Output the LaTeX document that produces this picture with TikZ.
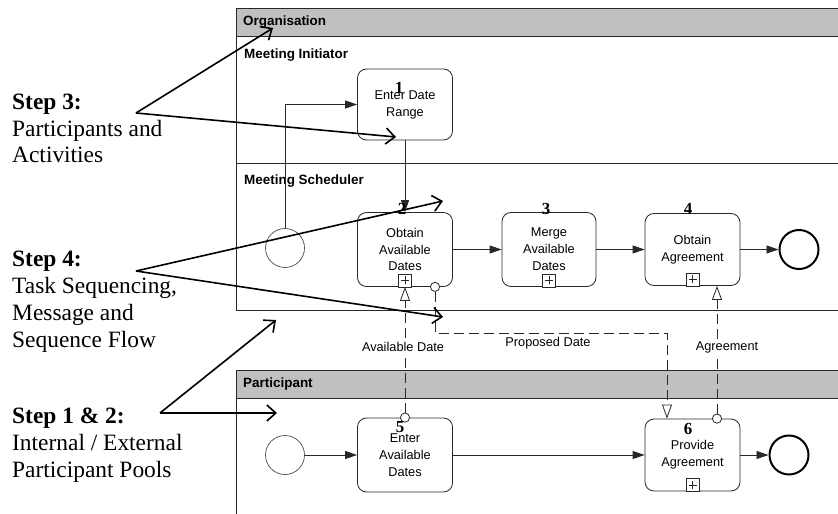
\documentclass[tikz,border=0pt]{standalone}
\usepackage{fontspec}
\setmainfont{Liberation Serif}
\newfontfamily\arialf{Liberation Sans}
\usetikzlibrary{arrows.meta}
\definecolor{hdr}{RGB}{192,192,192}
\definecolor{ln}{RGB}{40,40,40}
\begin{document}
\begin{tikzpicture}[x=1bp,y=-1bp,
  task/.style={draw=ln, line width=0.8bp, rounded corners=9bp, minimum width=95bp, minimum height=74bp, inner sep=0pt, align=center, font=\arialf\fontsize{12.8}{17}\selectfont},
  num/.style={font=\fontsize{17}{17}\selectfont\bfseries, inner sep=0pt},
  lanelbl/.style={anchor=west, font=\arialf\bfseries\fontsize{13.5}{15}\selectfont, inner sep=0pt},
  msglbl/.style={font=\arialf\fontsize{12.8}{15}\selectfont, fill=white, inner sep=1bp},
  seq/.style={draw=ln, line width=0.8bp, -{Triangle[length=12bp,width=8bp]}},
  msg/.style={draw=ln, line width=0.8bp, dash pattern=on 10bp off 5bp, {Circle[length=10bp,width=10bp,fill=white,line width=0.8bp]}-{Triangle[open,length=14bp,width=10bp,fill=white,line width=0.8bp]}, shorten <=-5bp},
  startev/.style={circle, draw=gray!60!black, line width=0.7bp, minimum size=39bp, inner sep=0pt},
  endev/.style={circle, draw=black, line width=2bp, minimum size=39bp, inner sep=0pt},
  note/.style={anchor=base west, align=left, inner sep=0pt, font=\fontsize{23.5}{27}\selectfont},
  pointer/.style={line width=1.6bp, -{Straight Barb[length=9bp,width=16bp]}},
  pool/.style={draw=ln, line width=0.8bp}
]
\useasboundingbox (0,0) rectangle (838,514);
\clip (0,0) rectangle (838,514);
% pools
\draw[pool, fill=white] (236,8) rectangle (850,310);
\filldraw[pool, fill=hdr] (236,8) rectangle (850,36);
\draw[pool] (236,163) -- (850,163);
\filldraw[pool, fill=hdr] (236,370) rectangle (850,398);
\draw[pool] (236,398) -- (236,520);
\node[lanelbl] (lo) at (243,22) {Organisation};
\node[lanelbl] (lmi) at (244,55) {Meeting Initiator};
\node[lanelbl] (lms) at (244,181) {Meeting Scheduler};
\node[lanelbl] (lp) at (243,384) {Participant};
% tasks
\node[task, minimum height=71bp] (t1) at (405,104.5) {Enter Date\\Range};
\node[task] (t2) at (405,249.5) {Obtain\\Available\\Dates};
\node[task, minimum width=94bp] (t3) at (549,249.5) {Merge\\Available\\Dates};
\node[task, minimum height=72bp] (t4) at (692.5,249.5) {Obtain\\Agreement};
\node[task] (t5) at (405,455) {Enter\\Available\\Dates};
\node[task, minimum height=72bp] (t6) at (692.5,455) {Provide\\Agreement};
\foreach \t in {t2,t3,t4,t6}{
  \draw[ln, line width=0.7bp, fill=white] ([xshift=-6.5bp]\t.south) rectangle ([xshift=6.5bp,yshift=13bp]\t.south);
  \draw[ln, line width=0.7bp] ([yshift=2.5bp]\t.south) -- ([yshift=10.5bp]\t.south);
  \draw[ln, line width=0.7bp] ([xshift=-4bp,yshift=6.5bp]\t.south) -- ([xshift=4bp,yshift=6.5bp]\t.south);
}
% events
\node[startev] (s1) at (285,248) {};
\node[endev] (e1) at (799,249.5) {};
\node[startev] (s2) at (285,455) {};
\node[endev] (e2) at (789,455) {};
% sequence flows
\draw[seq] (s1) |- (t1);
\draw[seq] (t1) -- (t2);
\draw[seq] (t2) -- (t3);
\draw[seq] (t3) -- (t4);
\draw[seq] (t4) -- (e1);
\draw[seq] (s2) -- (t5);
\draw[seq] (t5) -- (t6);
\draw[seq] (t6) -- (e2);
% message flows
\draw[msg] (t5.north) -- (t2.south);
\draw[msg] ([xshift=30bp]t2.south) -- ++(0,46) -| ([xshift=-25.5bp]t6.north);
\draw[msg] ([xshift=24.5bp]t6.north) -- ([xshift=24.5bp]t4.south);
\node[msglbl] (l1) at (403,347) {Available Date};
\node[msglbl] (l2) at (548,343) {Proposed Date};
\node[msglbl] (l3) at (727,347) {Agreement};
% numbers
\node[num] (n1) at (399,88) {1};
\node[num] (n2) at (402,209) {2};
\node[num] (n3) at (546,209) {3};
\node[num] (n4) at (688,209) {4};
\node[num] (n5) at (400,427) {5};
\node[num] (n6) at (688,429) {6};
% notes (base anchor = last line baseline)
\node[note] (st3) at (12,163) {\textbf{Step 3:}\\Participants and\\Activities};
\node[note] (st4) at (12,347) {\textbf{Step 4:}\\Task Sequencing,\\Message and\\Sequence Flow};
\node[note] (st12) at (12,477) {\textbf{Step 1 \& 2:}\\Internal / External\\Participant Pools};
% pointers
\coordinate (a3) at (136,113);
\coordinate (p3a) at (273,28);
\coordinate (p3b) at (396,137);
\coordinate (a4) at (136,271);
\coordinate (p4a) at (443,201);
\coordinate (p4b) at (443,317);
\coordinate (a12) at (160,413);
\coordinate (p12a) at (276,320);
\coordinate (p12b) at (277,413);
\draw[pointer] (a3) -- (p3a);
\draw[pointer] (a3) -- (p3b);
\draw[pointer] (a4) -- (p4a);
\draw[pointer] (a4) -- (p4b);
\draw[pointer] (a12) -- (p12a);
\draw[pointer] (a12) -- (p12b);
\end{tikzpicture}
\end{document}
